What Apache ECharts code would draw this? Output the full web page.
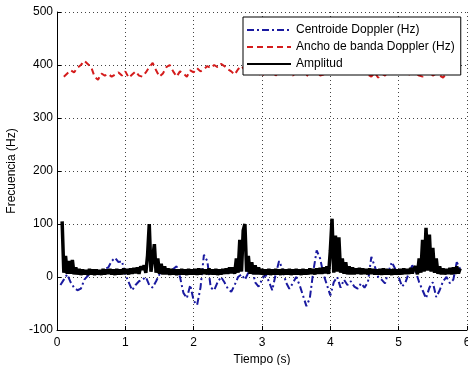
<!DOCTYPE html>
<html>
<head>
<meta charset="utf-8">
<script src="https://cdn.jsdelivr.net/npm/echarts@6/dist/echarts.min.js"></script>
<style>html,body{margin:0;padding:0;background:#fff;}#c{width:468px;height:365px;}</style>
</head>
<body>
<div id="c"></div>
<script>
// Sampling grids (seconds)
const centroidStart = 0.05, centroidStep = 0.05;
const bandStart = 0.10, bandStep = 0.05;
const ampStart = 0.075, ampStep = 0.025;

// Centroide Doppler (Hz)
const centroid = [
  -15, -5, 5, -10, -20, -25, -22, -5, 2, 8,
  13, 5, 10, 15, 18, 30, 36, 28, 30, 5,
  -10, -25, -15, -8, -5, 0, -15, -20, -8, 5,
  13, 10, 5, 15, 20, 0, -30, -40, -15, -45,
  -53, -20, 42, 30, -20, -25, -10, 0, -10, -22,
  -28, -15, 0, 5, -5, 8, 20, -10, -18, -5,
  5, -8, -25, 5, 30, 15, -10, -22, -12, 0,
  -15, -35, -55, -40, 10, 50, 35, 5, -15, -35,
  -10, 0, -20, -5, -15, -8, -18, -22, -12, -20,
  -10, 38, 20, 0, -5, -12, 10, 28, 15, 0,
  -18, -10, 8, 22, 10, -10, -25, -40, -20, -10,
  -38, -25, -8, 0, -12, -5, 28, 15
];

// Ancho de banda Doppler (Hz)
const bandwidth = [
  378, 384, 390, 386, 395, 400, 408, 402, 396, 378,
  372, 384, 380, 383, 378, 382, 386, 380, 388, 376,
  382, 388, 380, 378, 386, 396, 404, 390, 378, 384,
  396, 400, 388, 378, 388, 384, 378, 390, 386, 394,
  388, 392, 398, 394, 400, 396, 402, 398, 392, 388,
  382, 392, 398, 390, 396, 388, 392, 384, 378, 390,
  386, 392, 380, 388, 395, 384, 390, 380, 386, 392,
  384, 378, 388, 386, 392, 380, 382, 388, 384, 394,
  390, 396, 386, 392, 388, 394, 384, 386, 392, 382,
  378, 386, 376, 384, 380, 388, 394, 386, 390, 384,
  392, 382, 386, 384, 380, 378, 390, 386, 380, 384,
  380, 376, 384, 386, 392, 394, 386
];

// Amplitud
const amplitude = [
  105, 8, 40, 6, 30, 6, 32, 5, 18, 5,
  15, 4, 14, 5, 13, 4, 15, 5, 14, 4,
  14, 5, 13, 4, 15, 5, 14, 6, 15, 5,
  14, 4, 15, 5, 14, 5, 16, 6, 15, 5,
  16, 6, 17, 7, 18, 6, 20, 14, 22, 8,
  40, 100, 10, 35, 62, 8, 35, 6, 25, 5,
  20, 5, 16, 4, 15, 5, 14, 4, 14, 5,
  15, 5, 14, 4, 15, 5, 14, 5, 15, 4,
  16, 5, 15, 6, 14, 5, 16, 5, 14, 5,
  15, 4, 14, 5, 15, 6, 16, 6, 18, 7,
  18, 6, 35, 8, 70, 10, 88, 100, 10, 40,
  6, 28, 5, 22, 5, 18, 5, 15, 4, 14,
  5, 15, 4, 14, 5, 15, 5, 14, 4, 15,
  5, 14, 5, 15, 4, 14, 5, 15, 5, 14,
  4, 15, 5, 14, 5, 16, 6, 15, 5, 16,
  6, 17, 6, 18, 7, 20, 6, 50, 110, 8,
  78, 10, 75, 8, 35, 6, 28, 5, 20, 5,
  18, 5, 16, 6, 17, 5, 16, 6, 15, 5,
  16, 6, 15, 5, 14, 5, 15, 4, 16, 5,
  15, 5, 14, 4, 15, 5, 14, 5, 15, 5,
  16, 6, 15, 6, 17, 7, 16, 20, 5, 35,
  8, 70, 10, 93, 12, 80, 10, 55, 8, 35,
  6, 20, 5, 16, 5, 15, 6, 17, 5, 18,
  6, 20, 7, 16
];

// Axis ticks
const xTicks = [0, 1, 2, 3, 4, 5, 6];
const yTicks = [-100, 0, 100, 200, 300, 400, 500];

const seriesNames = ['Centroide Doppler (Hz)', 'Ancho de banda Doppler (Hz)', 'Amplitud'];

function pairs(start, step, arr) {
  return arr.map((v, i) => [+(start + i * step).toFixed(3), v]);
}

const font = 'Liberation Sans, Arial, sans-serif';
const chart = echarts.init(document.getElementById('c'), null, {renderer: 'canvas'});
chart.setOption({
  animation: false,
  backgroundColor: '#fff',
  grid: {left: 57, right: 1, top: 12, bottom: 35, containLabel: false, outerBoundsMode: 'none'},
  legend: {
    orient: 'vertical',
    left: 243, top: 17,
    padding: [7, 6, 5, 3],
    itemGap: 5,
    itemWidth: 44, itemHeight: 12,
    backgroundColor: '#fff',
    borderColor: '#000', borderWidth: 1,
    textStyle: {fontFamily: font, fontSize: 12, color: '#000'},
    itemStyle: {color: 'rgba(0,0,0,0)', borderWidth: 0, opacity: 0},
    data: [
      {name: seriesNames[0], lineStyle: {width: 2}},
      {name: seriesNames[1], lineStyle: {width: 2}},
      {name: seriesNames[2], lineStyle: {width: 2}}
    ],
    selectedMode: false
  },
  xAxis: {
    type: 'value', min: xTicks[0], max: xTicks[xTicks.length - 1], interval: 1,
    name: 'Tiempo (s)', nameLocation: 'middle', nameGap: 19,
    nameTextStyle: {fontFamily: font, fontSize: 12, color: '#000'},
    axisLine: {show: true, onZero: false, lineStyle: {color: '#000', width: 1}},
    axisTick: {show: true, inside: true, length: 4, lineStyle: {color: '#000'}},
    axisLabel: {fontFamily: font, fontSize: 12, color: '#000', margin: 7},
    splitLine: {show: true, lineStyle: {color: '#444', type: [1, 3], width: 1}}
  },
  yAxis: {
    type: 'value', min: yTicks[0], max: yTicks[yTicks.length - 1], interval: 100,
    name: 'Frecuencia (Hz)', nameLocation: 'middle', nameGap: 37,
    nameTextStyle: {fontFamily: font, fontSize: 12, color: '#000'},
    axisLine: {show: true, onZero: false, lineStyle: {color: '#000', width: 1}},
    axisTick: {show: true, inside: true, length: 4, lineStyle: {color: '#000'}},
    axisLabel: {fontFamily: font, fontSize: 12, color: '#000', margin: 4},
    splitLine: {show: true, lineStyle: {color: '#444', type: [1, 3], width: 1}}
  },
  series: [
    {
      name: seriesNames[0], type: 'line', showSymbol: false, symbol: 'none',
      data: pairs(centroidStart, centroidStep, centroid),
      lineStyle: {color: '#1a1aa0', width: 2, type: [7, 3, 2, 3]},
      itemStyle: {color: '#1a1aa0'}
    },
    {
      name: seriesNames[1], type: 'line', showSymbol: false, symbol: 'none',
      data: pairs(bandStart, bandStep, bandwidth),
      lineStyle: {color: '#d41c1c', width: 2, type: [6, 4]},
      itemStyle: {color: '#d41c1c'}
    },
    {
      name: seriesNames[2], type: 'line', showSymbol: false, symbol: 'none',
      data: pairs(ampStart, ampStep, amplitude),
      lineStyle: {color: '#000', width: 3.5},
      itemStyle: {color: '#000'}
    }
  ]
});
</script>
</body>
</html>
